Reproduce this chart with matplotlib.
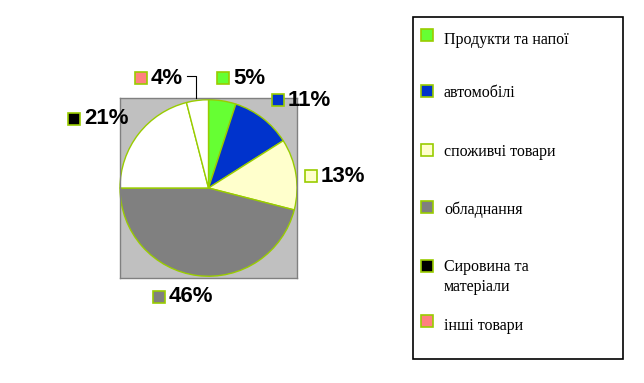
import matplotlib
matplotlib.use("Agg")
import matplotlib.pyplot as plt
from matplotlib.patches import Rectangle

# data
categories = ["Продукти та напої", "автомобілі", "споживчі товари",
              "обладнання", "Сировина та\nматеріали", "інші товари"]
shares = [5, 11, 13, 46, 21, 4]
legend_colors = ["#66ff33", "#0033cc", "#ffffcc", "#808080", "#000000", "#ff8080"]
# the last two slices come out white in the original
slice_colors = ["#66ff33", "#0033cc", "#ffffcc", "#808080", "#ffffff", "#ffffff"]
edge = "#99cc00"

W, H = 644, 383
fig = plt.figure(figsize=(W / 100, H / 100), dpi=100)

def fx(x):
    return x / W

def fy(y):
    return 1 - y / H

# pie with grey plot area
ax = fig.add_axes([fx(120), fy(278), 177 / W, 180 / H])
ax.pie(shares, colors=slice_colors, startangle=90, counterclock=False,
       radius=1.0, wedgeprops=dict(edgecolor=edge, linewidth=1))
ax.set_frame_on(True)
ax.set_facecolor("#c0c0c0")
for s in ax.spines.values():
    s.set_visible(True)
    s.set_color("#808080")
    s.set_linewidth(1)
ax.set_xlim(-1.0, 1.0)
ax.set_ylim(-1.02, 1.02)
ax.set_aspect("auto")
ax.set_xticks([])
ax.set_yticks([])

# percent labels (marker square + bold text), pixel positions
label_pos = [(217, 78), (272, 100), (305, 176), (153, 297), (68, 119), (135, 78)]
for v, c, (x, y) in zip(shares, legend_colors, label_pos):
    fig.patches.append(Rectangle((fx(x), fy(y + 6)), 12 / W, 12 / H,
                                 transform=fig.transFigure, facecolor=c,
                                 edgecolor=edge, linewidth=1.2))
    fig.text(fx(x + 16), fy(y), f"{v}%", fontsize=16, fontweight="bold",
             family="Liberation Sans", va="center", ha="left")

# leader line for 4%
fig.lines.append(plt.Line2D([fx(187), fx(196), fx(196)], [fy(76), fy(76), fy(98)],
                            transform=fig.transFigure, color="black", linewidth=0.8))

# legend box
fig.patches.append(Rectangle((fx(413), fy(359)), 210 / W, 342 / H,
                             transform=fig.transFigure, facecolor="white",
                             edgecolor="black", linewidth=1.2))
leg_y = [35, 91, 150, 207, 266, 321]
text_y = [40, 93, 152, 210, 277, 326]
for name, c, my, ty in zip(categories, legend_colors, leg_y, text_y):
    fig.patches.append(Rectangle((fx(421), fy(my + 6)), 12 / W, 12 / H,
                                 transform=fig.transFigure, facecolor=c,
                                 edgecolor=edge, linewidth=1.2))
    fig.text(fx(444), fy(ty), name, fontsize=11.5, family="Liberation Serif",
             va="center", ha="left", linespacing=1.4)

fig.savefig("out.png", dpi=100)
